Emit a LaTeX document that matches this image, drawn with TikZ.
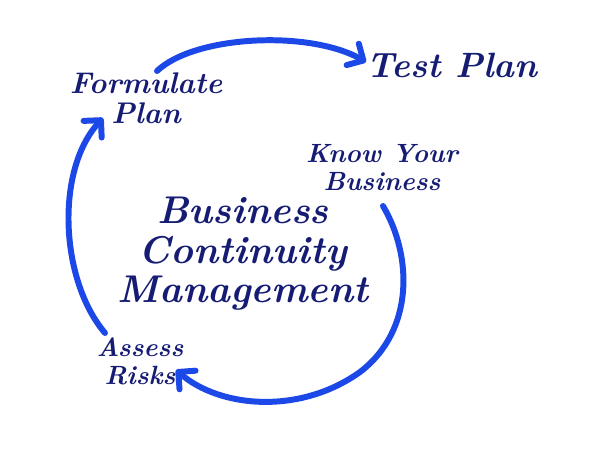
\documentclass[tikz,border=0pt]{standalone}
\usepackage{tikz}
\usetikzlibrary{arrows.meta}

\definecolor{inkblue}{RGB}{22,28,115}
\definecolor{penblue}{RGB}{28,72,232}

\begin{document}
\begin{tikzpicture}[x=0.02cm, y=-0.02cm,
        >={Straight Barb[length=7pt, width=14pt, line cap=round, round]},
        arrowline/.style={draw=penblue, line width=3.4pt, line cap=round},
        label/.style={text=inkblue, font=\bfseries\itshape\fontsize{17}{17}\selectfont, align=center, inner sep=0pt},
        small label/.style={label, font=\bfseries\itshape\fontsize{15}{16}\selectfont},
        title/.style={text=inkblue, font=\bfseries\itshape\fontsize{22}{22.5}\selectfont, align=center, inner sep=0pt}]

        \useasboundingbox (0, 0) rectangle (600, 470);

        \node[title] (bcm) at (243, 254) {Business\\Continuity\\Management};

        \node[label, font=\bfseries\itshape\fontsize{20}{24}\selectfont] (test) at (452, 65) {Test Plan};
        \node[label] (formulate) at (146, 98) {Formulate\\Plan};
        \node[small label] (know) at (382, 168) {Know Your\\Business};
        \node[small label] (assess) at (140, 361) {Assess\\Risks};

        % ends of the arrows
        \coordinate (f1) at (157, 71);
        \coordinate (t1) at (366, 62);
        \coordinate (k1) at (383, 206);
        \coordinate (a1) at (176, 370);
        \coordinate (a2) at (105, 333);
        \coordinate (f2) at (103, 118);

        % arrows
        \draw[arrowline, ->] (f1) .. controls (195, 35) and (310, 30) .. (t1);
        \draw[arrowline, ->] (k1) .. controls (412, 255) and (415, 330) .. (360, 372)
            .. controls (300, 415) and (220, 408) .. (a1);
        \draw[arrowline, ->] (a2) .. controls (60, 280) and (55, 170) .. (f2);

    \end{tikzpicture}
\end{document}
